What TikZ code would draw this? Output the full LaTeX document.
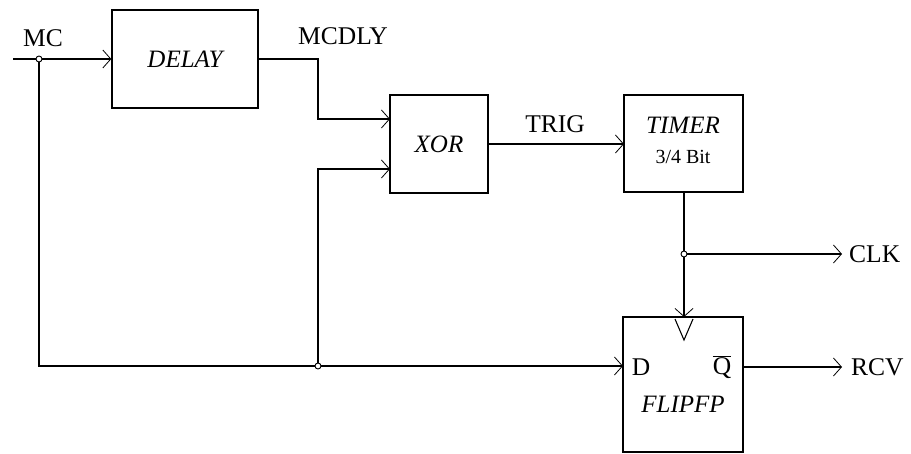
\documentclass[tikz,border=0pt]{standalone}
\usepackage{fontspec}
\setmainfont{Liberation Serif}
\usetikzlibrary{arrows.meta}
\tikzset{
  blk/.style={draw, line width=1.3pt, inner sep=0pt, font=\fontsize{25}{27}\selectfont\itshape},
  wire/.style={line width=1.3pt},
  arr/.style={wire, -{Straight Barb[length=8pt,width=18pt,line width=0.8pt]}},
  lbl/.style={font=\fontsize{25.5}{27}\selectfont, inner sep=0pt},
  itl/.style={font=\fontsize{25}{27}\selectfont\itshape, inner sep=0pt},
  jdot/.style={circle, draw, fill=white, line width=0.9pt, minimum size=6pt, inner sep=0pt},
}
\begin{document}
\begin{tikzpicture}[x=1pt,y=-1pt]
\useasboundingbox (0,0) rectangle (911,454);
% blocks
\node[blk, minimum width=146pt, minimum height=98pt] (delay) at (185,59) {DELAY};
\node[blk, minimum width=98pt, minimum height=98pt] (xor) at (439,144) {XOR};
\node[blk, minimum width=119pt, minimum height=97pt] (timer) at (683.5,143.5) {};
\node[itl] (timerlbl) at (683,125) {TIMER};
\node[font=\fontsize{20}{22}\selectfont, inner sep=0pt] (timerbit) at (683,157) {3/4 Bit};
\node[blk, minimum width=120pt, minimum height=135pt] (ff) at (683,384.5) {};
\node[lbl] (dlbl) at (641,367) {D};
\node[lbl] (qlbl) at (722,367) {$\overline{\mbox{Q}}$};
\node[itl] (fflbl) at (683,404) {FLIPFP};
% clock triangle
\coordinate (ckl) at (675,319);
\coordinate (cka) at (684,340);
\coordinate (ckr) at (693,319);
\draw[line width=1.1pt] (ckl) -- (cka) -- (ckr);
% coordinates
\coordinate (mcin) at (13,59);
\coordinate (j1) at (39,59);
\coordinate (c1) at (39,366);
\coordinate (j2) at (318,366);
\coordinate (b1) at (318,59);
\coordinate (b2) at (318,119);
\coordinate (xin1) at (390,119);
\coordinate (b3) at (318,169);
\coordinate (xin2) at (390,169);
\coordinate (tin) at (624,144);
\coordinate (tout) at (684,192);
\coordinate (j3) at (684,254);
\coordinate (ffclk) at (684,317);
\coordinate (ffd) at (623,366);
\coordinate (ffq) at (743,367);
\coordinate (clkend) at (842,254);
\coordinate (rcvend) at (842,367);
% wires
\draw[arr] (mcin) -- (delay.west);
\draw[wire] (j1) -- (c1) -- (j2);
\draw[arr] (j2) -- (ffd);
\draw[arr] (delay.east) -- (b1) -- (b2) -- (xin1);
\draw[arr] (j2) -- (b3) -- (xin2);
\draw[arr] (xor.east) -- (tin);
\draw[arr] (tout) -- (ffclk);
\draw[arr] (j3) -- (clkend);
\draw[arr] (ffq) -- (rcvend);
% junctions
\node[jdot] (jd1) at (j1) {};
\node[jdot] (jd2) at (j2) {};
\node[jdot] (jd3) at (j3) {};
% labels
\node[lbl] (mc) at (43,38) {MC};
\node[lbl] (mcdly) at (343,36) {MCDLY};
\node[lbl] (trig) at (555,124) {TRIG};
\node[lbl, anchor=west] (clk) at (849,254) {CLK};
\node[lbl, anchor=west] (rcv) at (851,367) {RCV};
\end{tikzpicture}
\end{document}
